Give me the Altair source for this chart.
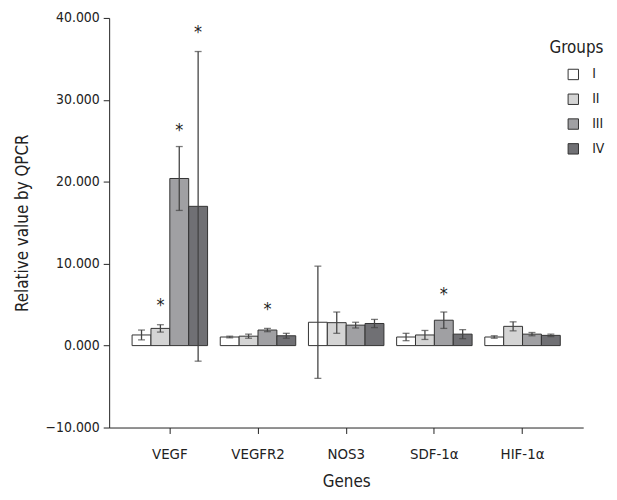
import altair as alt
import pandas as pd

genes = ["VEGF", "VEGFR2", "NOS3", "SDF-1α", "HIF-1α"]
groups = ["I", "II", "III", "IV"]
group_colors = ["#ffffff", "#d4d4d4", "#a0a0a3", "#707074"]

# means per group (one value per gene)
mean_I = [1.3, 1.05, 2.85, 1.05, 1.05]
mean_II = [2.1, 1.15, 2.8, 1.3, 2.35]
mean_III = [20.4, 1.9, 2.5, 3.1, 1.4]
mean_IV = [17.0, 1.2, 2.7, 1.4, 1.25]

err_I = [0.6, 0.1, 6.85, 0.45, 0.15]
err_II = [0.45, 0.25, 1.3, 0.55, 0.55]
err_III = [3.9, 0.2, 0.35, 1.0, 0.2]
err_IV = [18.9, 0.3, 0.5, 0.55, 0.15]

# significance stars: (gene, group, y value)
star_gene = ["VEGF", "VEGF", "VEGF", "VEGFR2", "SDF-1α"]
star_group = ["II", "III", "IV", "III", "III"]
star_y = [4.8, 26.2, 38.2, 4.4, 6.2]

y_ticks = [-10, 0, 10, 20, 30, 40]

rows = []
for g, m, e in zip(groups, [mean_I, mean_II, mean_III, mean_IV], [err_I, err_II, err_III, err_IV]):
    for gene, mv, ev in zip(genes, m, e):
        rows.append({"gene": gene, "group": g, "mean": mv, "lo": mv - ev, "hi": mv + ev})
df = pd.DataFrame(rows)
stars = pd.DataFrame({"gene": star_gene, "group": star_group, "y": star_y, "t": ["*"] * len(star_y)})

FONT = "'DejaVu Sans Condensed', 'Roboto Condensed', Roboto, sans-serif"

xenc = alt.X("gene:N", sort=genes,
             scale=alt.Scale(paddingInner=0.144, paddingOuter=0.26),
             axis=alt.Axis(title="Genes", labelAngle=0, labelFontSize=15, titleFontSize=17,
                           labelPadding=13, titlePadding=12, tickSize=6, labelColor="#222",
                           titleColor="#222", domainColor="#222", tickColor="#222"))
xoff = alt.XOffset("group:N", sort=groups, scale=alt.Scale(paddingInner=0, paddingOuter=0))
yscale = alt.Scale(domain=[-10, 40], nice=False, zero=False)
yaxis = alt.Axis(title="Relative value by QPCR", values=y_ticks, format=".3f", grid=False,
                 labelFontSize=14, titleFontSize=17, tickSize=6, labelPadding=4, titlePadding=14,
                 labelColor="#222", titleColor="#222", domainColor="#222", tickColor="#222")

bars = alt.Chart(df).mark_bar(stroke="#333", strokeWidth=1).encode(
    x=xenc, xOffset=xoff,
    y=alt.Y("mean:Q", scale=yscale, axis=yaxis),
    y2=alt.Y2(datum=0),
    color=alt.Color("group:N", sort=groups,
                    scale=alt.Scale(domain=groups, range=group_colors),
                    legend=alt.Legend(title=None, orient="none", legendX=461, legendY=50,
                                      symbolType="square", symbolSize=110, symbolStrokeColor="#333",
                                      symbolStrokeWidth=1, labelFontSize=14, rowPadding=9,
                                      labelOffset=12, labelColor="#222")),
)

rules = alt.Chart(df).mark_rule(color="#444", strokeWidth=1.3).encode(
    x=alt.X("gene:N", sort=genes), xOffset=xoff,
    y=alt.Y("lo:Q", scale=yscale), y2="hi:Q")
cap_lo = alt.Chart(df).mark_tick(color="#444", thickness=1.3, size=7).encode(
    x=alt.X("gene:N", sort=genes), xOffset=xoff, y=alt.Y("lo:Q", scale=yscale))
cap_hi = alt.Chart(df).mark_tick(color="#444", thickness=1.3, size=7).encode(
    x=alt.X("gene:N", sort=genes), xOffset=xoff, y=alt.Y("hi:Q", scale=yscale))

star_marks = alt.Chart(stars).mark_text(fontSize=18, font=FONT, color="#222", baseline="middle").encode(
    x=alt.X("gene:N", sort=genes), xOffset=alt.XOffset("group:N", sort=groups),
    y=alt.Y("y:Q", scale=yscale), text="t:N")

groups_title = alt.Chart(pd.DataFrame({"t": ["Groups"]})).mark_text(
    fontSize=17, font=FONT, color="#222", align="left", baseline="middle").encode(
    x=alt.value(444), y=alt.value(30), text="t:N")

chart = alt.layer(bars, rules, cap_lo, cap_hi, star_marks, groups_title).properties(
    width=478, height=413,
    autosize=alt.AutoSizeParams(type="none"),
    padding={"left": 102, "top": 8, "right": 26, "bottom": 63},
).configure_view(stroke=None).configure_axis(labelFont=FONT, titleFont=FONT, titleFontWeight="normal"
).configure_legend(labelFont=FONT)

chart.save("out.html", embed_options={"renderer": "svg", "actions": False})
